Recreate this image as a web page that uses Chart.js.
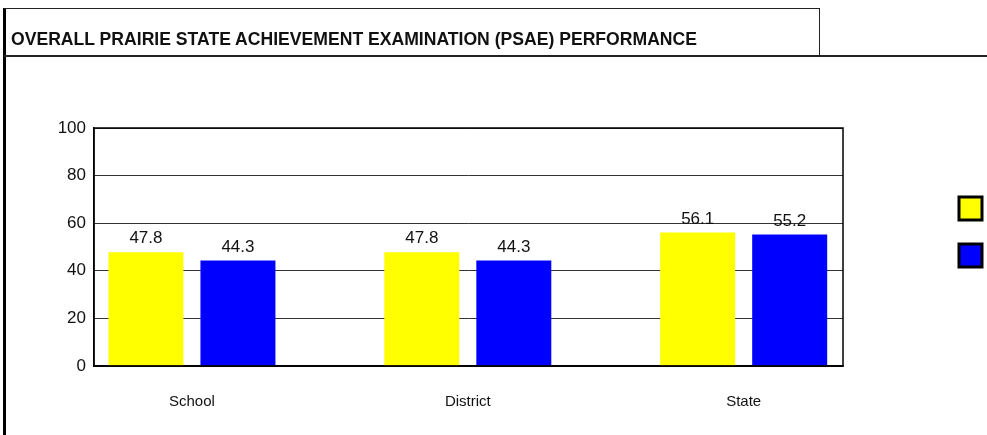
<!DOCTYPE html>
<html>
<head>
<meta charset="utf-8">
<script src="https://cdn.jsdelivr.net/npm/chart.js@4.4.1/dist/chart.umd.min.js"></script>
<style>
    body { margin: 0; background: #fff; }
    #wrap { position: relative; width: 987px; height: 435px; overflow: hidden; }
    #chart { position: absolute; left: 0; top: 0; }
    .line { position: absolute; background: #222; }
    #title {
        position: absolute; left: 11px; top: 29px; white-space: nowrap;
        font-family: "Liberation Sans Narrow", "Arial Narrow", "Liberation Sans", Arial, sans-serif;
        font-weight: bold; font-size: 18px; color: #111; transform-origin: 0 0;
    }
</style>
</head>
<body>
<div id="wrap">
    <canvas id="chart" width="987" height="435"></canvas>
    <div class="line" style="left:3px; top:8px; width:3px; height:427px; background:#000"></div>
    <div class="line" style="left:4px; top:8px; width:816px; height:1px"></div>
    <div class="line" style="left:819px; top:8px; width:1px; height:48px"></div>
    <div class="line" style="left:4px; top:55px; width:983px; height:2px"></div>
    <div id="title">OVERALL PRAIRIE STATE ACHIEVEMENT EXAMINATION (PSAE) PERFORMANCE</div>
</div>
<script>
// Data
const categories = ['School', 'District', 'State'];
const series1 = [47.8, 47.8, 56.1];
const series2 = [44.3, 44.3, 55.2];
const yTicks = [0, 20, 40, 60, 80, 100];

// squeeze the title if the narrow font is missing
const title = document.getElementById('title');
const tw = title.getBoundingClientRect().width;
if (tw > 690) title.style.transform = 'scaleX(' + (686 / tw) + ')';

// values above the bars
const valueLabels = {
    id: 'valueLabels',
    afterDatasetsDraw(chart) {
        const ctx = chart.ctx;
        ctx.save();
        ctx.font = '17px "Liberation Sans", Arial, sans-serif';
        ctx.fillStyle = '#111';
        ctx.textAlign = 'center';
        ctx.textBaseline = 'bottom';
        chart.data.datasets.forEach((ds, i) => {
            chart.getDatasetMeta(i).data.forEach((bar, j) => {
                ctx.fillText(ds.data[j].y.toFixed(1), bar.x, bar.y - 5);
            });
        });
        ctx.restore();
    }
};

// plot area outline + legend boxes with no text
const frame = {
    id: 'frame',
    afterDraw(chart) {
        const ctx = chart.ctx;
        const a = chart.chartArea;
        ctx.save();
        ctx.strokeStyle = '#000';
        ctx.lineWidth = 1.5;
        ctx.strokeRect(a.left, a.top, a.right - a.left, a.bottom - a.top);
        chart.data.datasets.forEach((ds, i) => {
            const x = 959, y = 197 + i * 47;
            ctx.fillStyle = ds.backgroundColor;
            ctx.fillRect(x, y, 23, 23);
            ctx.lineWidth = 3;
            ctx.strokeStyle = '#000';
            ctx.strokeRect(x, y, 23, 23);
        });
        ctx.restore();
    }
};

const ctx = document.getElementById('chart').getContext('2d');
new Chart(ctx, {
    type: 'bar',
    data: {
        datasets: [{
            label: '',
            data: series1.map((v, i) => ({ x: i, y: v })),
            backgroundColor: '#ffff00'
        }, {
            label: '',
            data: series2.map((v, i) => ({ x: i, y: v })),
            backgroundColor: '#0000ff'
        }]
    },
    options: {
        responsive: false,
        animation: false,
        devicePixelRatio: 1,
        categoryPercentage: 0.667,
        barPercentage: 0.815,
        layout: { padding: { top: 128, right: 144, left: 0, bottom: 0 } },
        plugins: {
            legend: { display: false },
            tooltip: { enabled: false }
        },
        scales: {
            x: {
                type: 'linear',
                offset: false,
                bounds: 'data',
                min: -0.355,
                max: 2.36,
                afterDataLimits: s => { s.min = -0.355; s.max = 2.36; },
                afterBuildTicks: s => { s.ticks = categories.map((c, i) => ({ value: i })); },
                afterFit: s => { s.height = 69; },
                grid: { display: false, drawTicks: false, offset: false },
                border: { color: '#000', width: 1.5 },
                ticks: {
                    padding: 27,
                    color: '#111',
                    font: { family: '"Liberation Sans", Arial, sans-serif', size: 15 },
                    callback: v => categories[v]
                }
            },
            y: {
                min: 0,
                max: 100,
                afterBuildTicks: s => { s.ticks = yTicks.map(v => ({ value: v })); },
                afterFit: s => { s.width = 94; },
                grid: { color: '#333', lineWidth: 1, drawTicks: false },
                border: { color: '#000', width: 1.5 },
                ticks: {
                    padding: 8,
                    color: '#111',
                    font: { family: '"Liberation Sans", Arial, sans-serif', size: 17 }
                }
            }
        }
    },
    plugins: [valueLabels, frame]
});
</script>
</body>
</html>
